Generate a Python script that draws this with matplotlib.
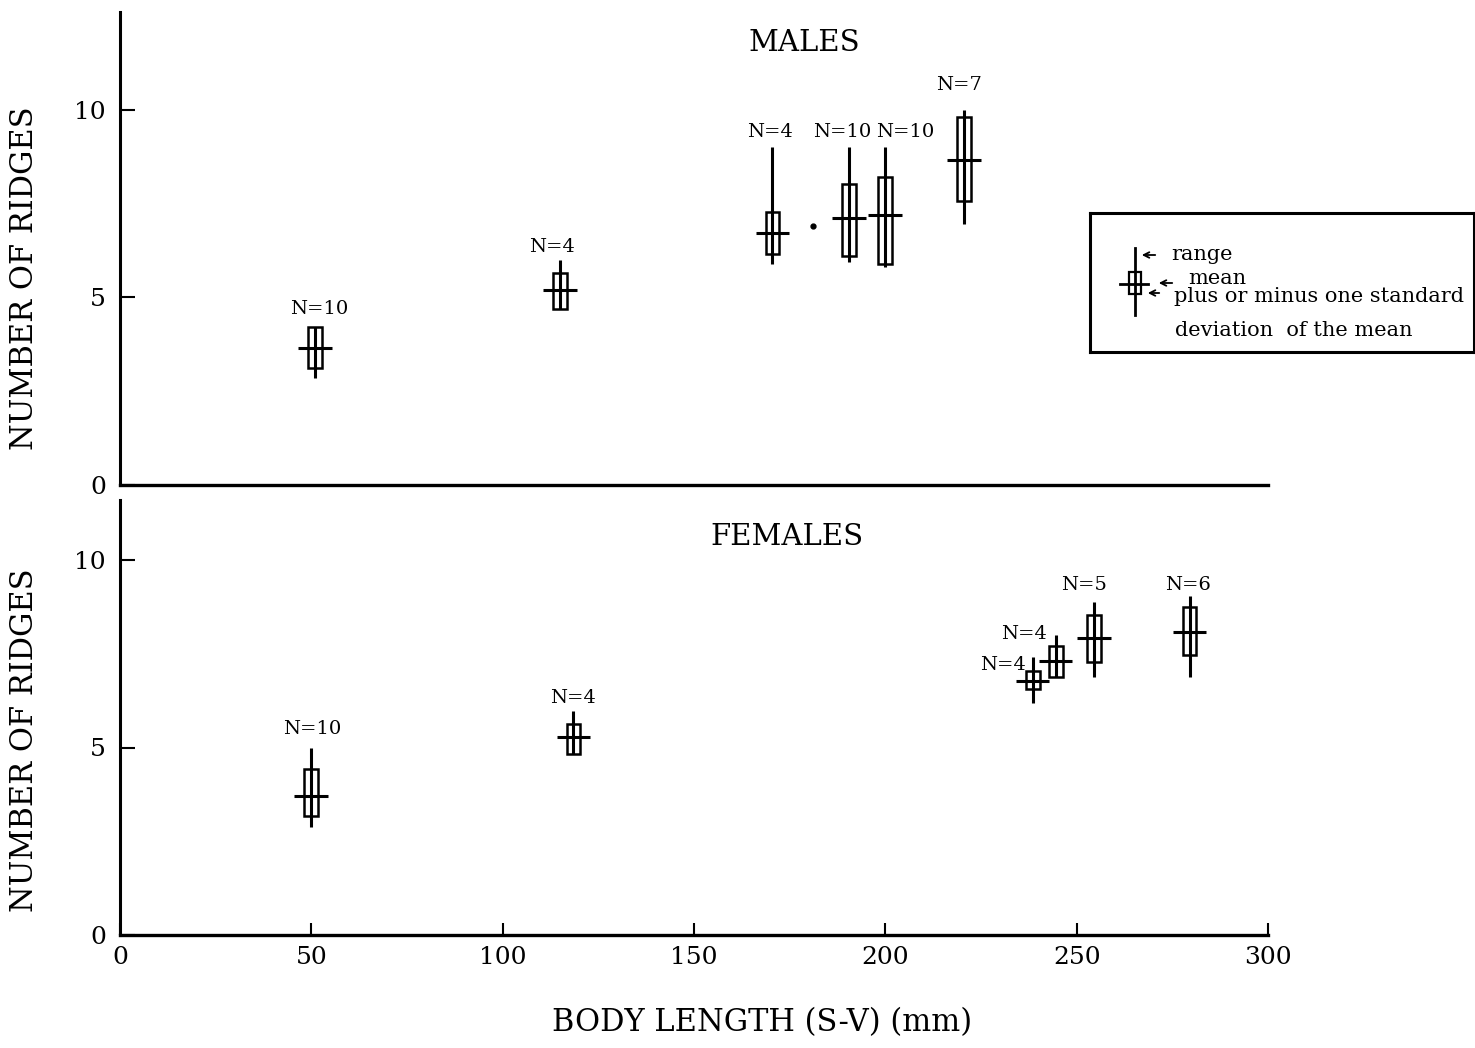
import matplotlib
matplotlib.use("Agg")
import matplotlib.pyplot as plt
from matplotlib.patches import Rectangle

plt.rcParams["font.family"] = ["DejaVu Serif"]

# ridge counts vs snout-vent length, one summary per size class
males_x = [51, 115, 170.5, 190.5, 200, 220.5]
males_n = [10, 4, 4, 10, 10, 7]
males_mean = [3.65, 5.2, 6.7, 7.1, 7.2, 8.65]
males_sd_lo = [3.12, 4.7, 6.15, 6.1, 5.9, 7.57]
males_sd_hi = [4.2, 5.65, 7.28, 8.03, 8.2, 9.8]
males_min = [2.85, 4.7, 5.9, 5.95, 5.8, 6.95]
males_max = [4.2, 6.0, 9.0, 9.0, 9.0, 10.0]
males_single_x = [181]
males_single_y = [6.9]

females_x = [50, 118.5, 238.5, 244.5, 254.5, 279.5]
females_n = [10, 4, 4, 4, 5, 6]
females_mean = [3.72, 5.28, 6.78, 7.32, 7.92, 8.08]
females_sd_lo = [3.17, 4.83, 6.56, 6.88, 7.28, 7.47]
females_sd_hi = [4.43, 5.63, 7.04, 7.71, 8.53, 8.75]
females_min = [2.88, 4.83, 6.2, 6.88, 6.88, 6.88]
females_max = [5.0, 5.97, 7.41, 8.0, 8.88, 9.04]

x_ticks = [0, 50, 100, 150, 200, 250, 300]
y_ticks = [0, 5, 10]

# N= label offsets in pixels from the top of each range bar
males_lab_off = [(4, 18), (-8, 13), (-2, 15), (-7, 15), (20, 15), (-5, 25)]
females_lab_off = [(1, 18), (0, 13), (-30, -8), (-32, 1), (-10, 17), (-2, 11)]

BOX_W = 3.6
CROSS_HALF = 4.4


def draw_panel(ax, xs, ns, mean, lo, hi, mn, mx, offs):
    for i, x in enumerate(xs):
        ax.plot([x, x], [mn[i], mx[i]], color="black", lw=2.2, solid_capstyle="butt")
        ax.add_patch(Rectangle((x - BOX_W / 2, lo[i]), BOX_W, hi[i] - lo[i],
                               fill=False, edgecolor="black", lw=1.8))
        ax.plot([x - CROSS_HALF, x + CROSS_HALF], [mean[i], mean[i]],
                color="black", lw=2.2, solid_capstyle="butt")
        dx, dy = offs[i]
        ax.annotate(f"N={ns[i]}", (x, mx[i]), textcoords="offset pixels",
                    xytext=(dx, dy), ha="center", va="center", fontsize=14)


def style_axes(ax, top):
    ax.set_xlim(0, 300)
    ax.set_ylim(0, top)
    for s in ("top", "right"):
        ax.spines[s].set_visible(False)
    ax.spines["left"].set_linewidth(2.2)
    ax.spines["bottom"].set_linewidth(2.4)
    ax.set_yticks(y_ticks)
    ax.set_yticklabels([str(t) for t in y_ticks], fontsize=18)
    ax.tick_params(axis="y", direction="in", length=11, width=1.5, pad=10)


fig = plt.figure(figsize=(14.75, 10.48), dpi=100)
ax_m = fig.add_axes([120 / 1475, 1 - 485 / 1048, 1148 / 1475, 473 / 1048])
ax_f = fig.add_axes([120 / 1475, 1 - 935 / 1048, 1148 / 1475, 435 / 1048])

style_axes(ax_m, 12.6)
style_axes(ax_f, 11.6)
ax_m.set_xticks([])
ax_f.set_xticks(x_ticks)
ax_f.set_xticklabels([str(t) for t in x_ticks], fontsize=18)
ax_f.tick_params(axis="x", direction="in", length=9, width=1.5, pad=8)

draw_panel(ax_m, males_x, males_n, males_mean, males_sd_lo, males_sd_hi,
           males_min, males_max, males_lab_off)
ax_m.plot(males_single_x, males_single_y, "o", color="black", markersize=3.5)
draw_panel(ax_f, females_x, females_n, females_mean, females_sd_lo, females_sd_hi,
           females_min, females_max, females_lab_off)

fig.text(804 / 1475, 1 - 43 / 1048, "MALES", ha="center", va="center", fontsize=21)
fig.text(787 / 1475, 1 - 537 / 1048, "FEMALES", ha="center", va="center", fontsize=21)
fig.text(25 / 1475, 1 - 278 / 1048, "NUMBER OF RIDGES", rotation=90,
         ha="center", va="center", fontsize=22)
fig.text(25 / 1475, 1 - 740 / 1048, "NUMBER OF RIDGES", rotation=90,
         ha="center", va="center", fontsize=22)
fig.text(762 / 1475, 1 - 1023 / 1048, "BODY LENGTH (S-V) (mm)",
         ha="center", va="center", fontsize=22)

# key explaining the bar glyph, drawn in its own pixel-space box
key = fig.add_axes([1090 / 1475, 1 - 352 / 1048, 384 / 1475, 139 / 1048])
key.set_xlim(0, 384)
key.set_ylim(139, 0)
key.set_xticks([])
key.set_yticks([])
for s in key.spines.values():
    s.set_linewidth(2.2)
key.plot([45, 45], [35, 102], color="black", lw=2)
key.add_patch(Rectangle((39, 59), 12, 22, fill=False, edgecolor="black", lw=1.6))
key.plot([30, 58], [71, 71], color="black", lw=2)
key.annotate("", xy=(49, 42), xytext=(68, 42),
             arrowprops=dict(arrowstyle="->", lw=1.3, color="black"))
key.annotate("", xy=(66, 70), xytext=(85, 70),
             arrowprops=dict(arrowstyle="->", lw=1.3, color="black"))
key.annotate("", xy=(55, 80), xytext=(72, 80),
             arrowprops=dict(arrowstyle="->", lw=1.3, color="black"))
key.text(81, 42, "range", ha="left", va="center", fontsize=15)
key.text(98, 66, "mean", ha="left", va="center", fontsize=15)
key.text(84, 84, "plus or minus one standard", ha="left", va="center", fontsize=15)
key.text(85, 117, "deviation  of the mean", ha="left", va="center", fontsize=15)

fig.savefig("out.png", dpi=100)
